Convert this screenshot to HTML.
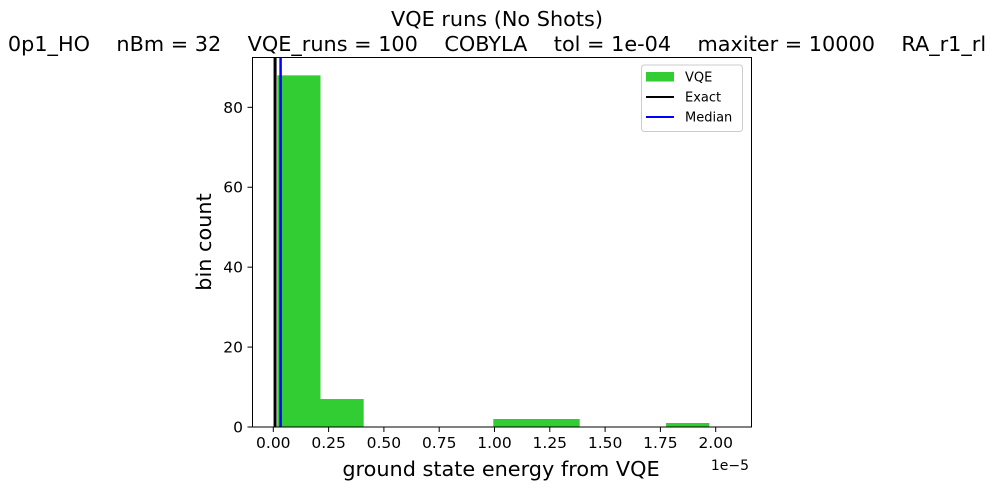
<!DOCTYPE html>
<html><head><meta charset="utf-8"><style>
body{margin:0;background:#fff;}
svg{font-family:"DejaVu Sans","Liberation Sans",sans-serif;}
</style></head><body>
<svg id="chart" width="1001" height="490" xmlns="http://www.w3.org/2000/svg">
<text x="497" y="26" font-size="20.8" text-anchor="middle">VQE runs (No Shots)</text>
<text x="497" y="51" font-size="20.8" text-anchor="middle" xml:space="preserve">0p1_HO    nBm = 32    VQE_runs = 100    COBYLA    tol = 1e-04    maxiter = 10000    RA_r1_rl</text>
<g id="bars"></g>
<g id="lines"></g>
<rect x="252.5" y="57.5" width="499" height="369.5" fill="none" stroke="#000" stroke-width="1"/>
<g id="xticks"></g><g id="yticks"></g>
<text x="501" y="476" font-size="20.8" text-anchor="middle">ground state energy from VQE</text>
<text x="749" y="470" font-size="14" text-anchor="end">1e−5</text>
<text transform="translate(211,242) rotate(-90)" font-size="20.8" text-anchor="middle">bin count</text>
<g>
<rect x="641.5" y="65" width="101" height="66.5" rx="3" fill="#fff" stroke="#ccc"/>
<rect x="646" y="72" width="28" height="9.5" fill="#32cd32"/>
<text x="685" y="81.5" font-size="13">VQE</text>
<line x1="646" x2="674" y1="97" y2="97" stroke="#000" stroke-width="2"/>
<text x="685" y="101.5" font-size="13">Exact</text>
<line x1="646" x2="674" y1="117" y2="117" stroke="#0000ff" stroke-width="2"/>
<text x="685" y="121.5" font-size="13">Median</text>
</g>
</svg>
<script>
const binStart = 0.018;
const binWidth = 0.1953;
const counts = [88, 7, 0, 0, 0, 2, 2, 0, 0, 1];
const xTicks = [0, 0.25, 0.5, 0.75, 1.0, 1.25, 1.5, 1.75, 2.0];
const xTickLabels = ["0.00","0.25","0.50","0.75","1.00","1.25","1.50","1.75","2.00"];
const yTicks = [0, 20, 40, 60, 80];
const exactValue = 0.008;
const medianValue = 0.033;
const NS = "http://www.w3.org/2000/svg";
const X = v => 273.3 + v * 221.2;
const Y = v => 427 - v * 3.996;
function mk(tag, attrs, parent){const e=document.createElementNS(NS,tag);for(const k in attrs)e.setAttribute(k,attrs[k]);document.getElementById(parent).appendChild(e);return e;}
counts.forEach((c,i)=>{
  if(c<=0) return;
  const x0=X(binStart+i*binWidth), x1=X(binStart+(i+1)*binWidth);
  const r=mk('rect',{x:x0,y:Y(c),width:x1-x0,height:Y(0)-Y(c),fill:'#32cd32'},'bars');
  
  
});
const le=mk('line',{x1:X(exactValue),x2:X(exactValue),y1:57,y2:427,stroke:'#000','stroke-width':3},'lines');


const lm=mk('line',{x1:X(medianValue),x2:X(medianValue),y1:57,y2:427,stroke:'#0000ff','stroke-width':2.5},'lines');


xTicks.forEach((v,i)=>{
  const t=mk('line',{x1:X(v),x2:X(v),y1:427,y2:432,stroke:'#000'},'xticks');
  
  
  const l=mk('text',{x:X(v),y:448,'font-size':15.5,'text-anchor':'middle'},'xticks');
  l.textContent=xTickLabels[i];
  
  
});
yTicks.forEach(v=>{
  const t=mk('line',{x1:247.5,x2:252.5,y1:Y(v),y2:Y(v),stroke:'#000'},'yticks');
  
  
  const l=mk('text',{x:243,y:Y(v)+5.5,'font-size':15.5,'text-anchor':'end'},'yticks');
  l.textContent=v;
  
  
});
</script>
</body></html>
